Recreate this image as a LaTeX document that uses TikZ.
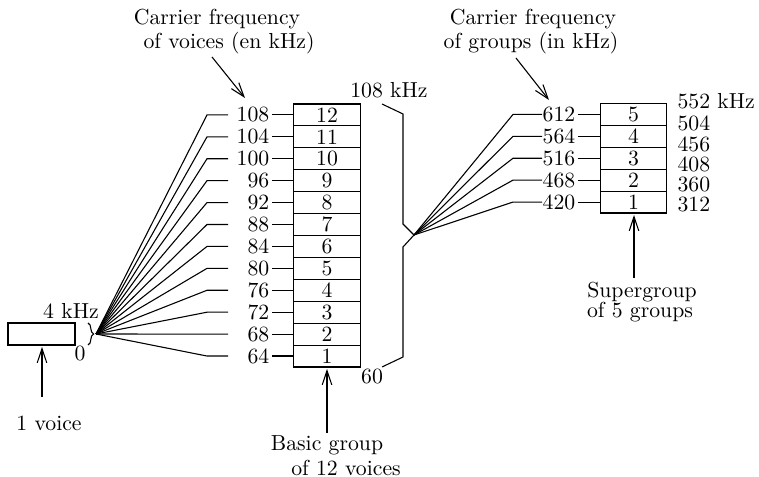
\documentclass[tikz,border=0pt]{standalone}
\usetikzlibrary{arrows.meta,decorations.pathreplacing}
\begin{document}
\begin{tikzpicture}[x=0.46pt,y=-0.46pt,line width=0.5pt,
  cell/.style={draw,inner sep=0pt,minimum width=30.6pt,minimum height=10.07pt},
  lbl/.style={inner sep=1pt},
  txt/.style={inner sep=0pt},
  arr/.style={-{Straight Barb[length=6.5pt,width=4.4pt]}}]
\useasboundingbox (0,0) rectangle (759,477);
% ---- one voice
\node[draw,inner sep=0pt,minimum width=30.8pt,minimum height=10.1pt] (voice) at (41.5,334) {};
\node[txt] (v4) at (71,311) {4 kHz};
\node[txt] (v0) at (80,354) {0};
\draw[decorate,decoration={brace,amplitude=2.6pt}] (88,323) -- (88,345);
\coordinate (apexA) at (96,334);
\node[txt] (vt) at (49,423) {1 voice};
\coordinate (va0) at (42,397);
\coordinate (va1) at (42,347);
\draw[arr] (va0) -- (va1);
% ---- basic group
\foreach \i in {1,...,12}{
  \pgfmathsetmacro\yy{367-21.92*(\i-0.5)}
  \pgfmathtruncatemacro\fr{64+4*(\i-1)}
  \node[cell] (g\i) at (327,\yy) {\i};
  \node[lbl,anchor=east] (f\i) at (272,\yy) {\fr};
  \draw (f\i.east) -- (g\i.west);
  \coordinate (k\i) at (207,\yy);
  \coordinate (e\i) at (228,\yy);
  \draw (apexA) -- (k\i) -- (e\i);
}
\node[txt] (cv1) at (217,19) {Carrier frequency};
\node[txt] (cv2) at (229,43) {of voices (en kHz)};
\coordinate (cva0) at (212,57);
\coordinate (cva1) at (245,98);
\draw[arr] (cva0) -- (cva1);
\node[txt] (bg1) at (327,445) {Basic group};
\node[txt] (bg2) at (346,468) {of 12 voices};
\coordinate (bga0) at (327,433);
\coordinate (bga1) at (327,369);
\draw[arr] (bga0) -- (bga1);
% ---- big brace
\node[txt] (b108) at (389,90) {108 kHz};
\node[txt] (b60) at (372,377) {60};
\coordinate (apexB) at (414,235);
\draw (382,104) -- (403,114) -- (403,224) -- (apexB) -- (403,247) -- (403,357) -- (382,367);
% ---- supergroup
\foreach \j in {1,...,5}{
  \pgfmathsetmacro\yy{213-21.9*(\j-0.5)}
  \pgfmathtruncatemacro\fr{420+48*(\j-1)}
  \node[cell] (s\j) at (633.5,\yy) {\j};
  \node[lbl,anchor=east] (h\j) at (578,\yy) {\fr};
  \draw (h\j.east) -- (s\j.west);
  \coordinate (m\j) at (513,\yy);
  \coordinate (n\j) at (542,\yy);
  \draw (apexB) -- (m\j) -- (n\j);
}
\node[txt,anchor=west] (r6) at (677,101) {552 kHz};
\node[txt,anchor=west] (r5) at (677,123.5) {504};
\node[txt,anchor=west] (r4) at (677,144.5) {456};
\node[txt,anchor=west] (r3) at (677,164.5) {408};
\node[txt,anchor=west] (r2) at (677,184.5) {360};
\node[txt,anchor=west] (r1) at (677,205) {312};
\node[txt] (cg1) at (533,19) {Carrier frequency};
\node[txt] (cg2) at (531,43) {of groups (in kHz)};
\coordinate (cga0) at (516,58);
\coordinate (cga1) at (549,100);
\draw[arr] (cga0) -- (cga1);
\node[txt] (sg1) at (642,292) {Supergroup};
\node[txt] (sg2) at (640,312) {of 5 groups};
\coordinate (sga0) at (634,278);
\coordinate (sga1) at (634,215);
\draw[arr] (sga0) -- (sga1);
\end{tikzpicture}
\end{document}
